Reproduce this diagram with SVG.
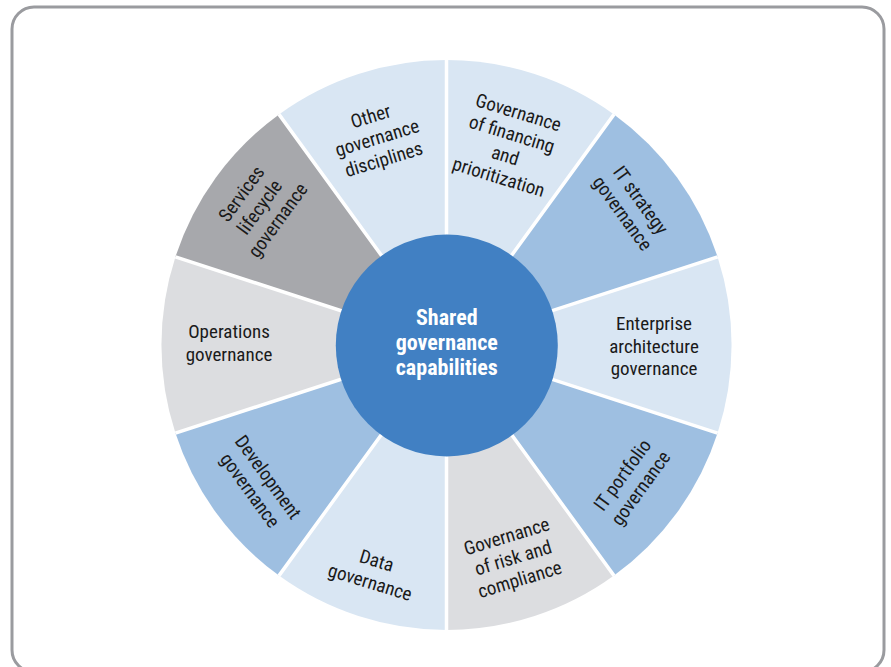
<svg xmlns="http://www.w3.org/2000/svg" width="891" height="667" viewBox="0 0 891 667">
<defs>
<style>
.lb{fill:#d9e6f3}
.mb{fill:#9ebfe1}
.lg{fill:#dcdde0}
.dg{fill:#a7a8ac}
.sep{stroke:#ffffff;stroke-width:3.5;fill:none}
.t{font-family:"Liberation Sans Narrow","Roboto Condensed","Liberation Sans",sans-serif;font-size:19px;fill:#1a1a1a;text-anchor:middle}
.c{font-family:"Liberation Sans Narrow","Roboto Condensed","Liberation Sans",sans-serif;font-size:22px;font-weight:bold;fill:#ffffff;text-anchor:middle}
</style>
</defs>
<rect x="12" y="7" width="872" height="665" rx="22" ry="22" fill="#ffffff" stroke="#9a9b9f" stroke-width="3"/>

<g id="seg-financing">
<path class="lb" d="M446.5,345 L446.5,60 A285,285 0 0 1 614,114.4 Z"/>
<text class="t" transform="translate(508.5,145) rotate(17)"><tspan x="0" y="-27.5">Governance</tspan><tspan x="0" y="-5">of financing</tspan><tspan x="0" y="17.5">and</tspan><tspan x="0" y="40">prioritization</tspan></text>
</g>
<g id="seg-itstrategy">
<path class="mb" d="M446.5,345 L614,114.4 A285,285 0 0 1 717.6,256.9 Z"/>
<text class="t" transform="translate(631.3,206.8) rotate(54)"><tspan x="0" y="-5">IT strategy</tspan><tspan x="0" y="17.5">governance</tspan></text>
</g>
<g id="seg-enterprise">
<path class="lb" d="M446.5,345 L717.6,256.9 A285,285 0 0 1 717.6,433.1 Z"/>
<text class="t" transform="translate(654,346.5)"><tspan x="0" y="-16.5">Enterprise</tspan><tspan x="0" y="6">architecture</tspan><tspan x="0" y="28.5">governance</tspan></text>
</g>
<g id="seg-itportfolio">
<path class="mb" d="M446.5,345 L717.6,433.1 A285,285 0 0 1 614,575.6 Z"/>
<text class="t" transform="translate(631.7,481.7) rotate(-54)"><tspan x="0" y="-5">IT portfolio</tspan><tspan x="0" y="17.5">governance</tspan></text>
</g>
<g id="seg-risk">
<path class="lg" d="M446.5,345 L614,575.6 A285,285 0 0 1 446.5,630 Z"/>
<text class="t" transform="translate(513.3,558.3) rotate(-17)"><tspan x="0" y="-16.5">Governance</tspan><tspan x="0" y="6">of risk and</tspan><tspan x="0" y="28.5">compliance</tspan></text>
</g>
<g id="seg-data">
<path class="lb" d="M446.5,345 L446.5,630 A285,285 0 0 1 279,575.6 Z"/>
<text class="t" transform="translate(373.3,571.7) rotate(17)"><tspan x="0" y="-5">Data</tspan><tspan x="0" y="17.5">governance</tspan></text>
</g>
<g id="seg-development">
<path class="mb" d="M446.5,345 L279,575.6 A285,285 0 0 1 175.4,433.1 Z"/>
<text class="t" transform="translate(258.8,483.8) rotate(54)"><tspan x="0" y="-5">Development</tspan><tspan x="0" y="17.5">governance</tspan></text>
</g>
<g id="seg-operations">
<path class="lg" d="M446.5,345 L175.4,433.1 A285,285 0 0 1 175.4,256.9 Z"/>
<text class="t" transform="translate(229,343)"><tspan x="0" y="-5">Operations</tspan><tspan x="0" y="17.5">governance</tspan></text>
</g>
<g id="seg-services">
<path class="dg" d="M446.5,345 L175.4,256.9 A285,285 0 0 1 279,114.4 Z"/>
<text class="t" transform="translate(260,207.3) rotate(-54)"><tspan x="0" y="-16.5">Services</tspan><tspan x="0" y="6">lifecycle</tspan><tspan x="0" y="28.5">governance</tspan></text>
</g>
<g id="seg-other">
<path class="lb" d="M446.5,345 L279,114.4 A285,285 0 0 1 446.5,60 Z"/>
<text class="t" transform="translate(377.3,138.3) rotate(-17)"><tspan x="0" y="-16.5">Other</tspan><tspan x="0" y="6">governance</tspan><tspan x="0" y="28.5">disciplines</tspan></text>
</g>

<g id="connectors">
<path class="sep" d="M446.5,345 L446.5,58 M446.5,345 L614,114.4 M446.5,345 L717.6,256.9 M446.5,345 L717.6,433.1 M446.5,345 L614,575.6 M446.5,345 L446.5,632 M446.5,345 L279,575.6 M446.5,345 L175.4,433.1 M446.5,345 L175.4,256.9 M446.5,345 L279,114.4"/>
</g>

<g id="center">
<circle cx="446.8" cy="345.5" r="111" fill="#4180c3"/>
<text class="c"><tspan x="446.8" y="325">Shared</tspan><tspan x="446.8" y="350">governance</tspan><tspan x="446.8" y="375">capabilities</tspan></text>
</g>
</svg>
